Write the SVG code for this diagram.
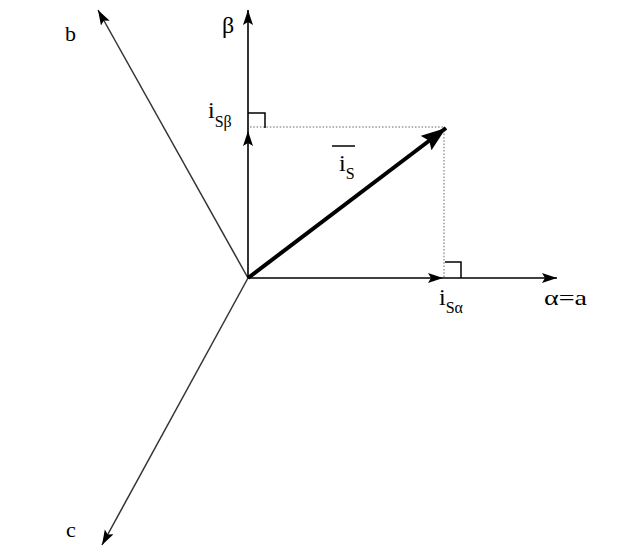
<svg xmlns="http://www.w3.org/2000/svg" width="619" height="556" viewBox="0 0 619 556">
<defs>
<style>
.ax{stroke:#000;stroke-width:1.6;fill:none}
.ph{stroke:#333;stroke-width:1.5;fill:none}
.dot{stroke:#999;stroke-width:1.5;stroke-dasharray:1.5 1.8;fill:none}
.ra{stroke:#000;stroke-width:1.5;fill:none}
.lbl{font-family:"Liberation Serif","DejaVu Serif",serif;fill:#000}
.sub{font-size:16px}
</style>
<marker id="ar" markerUnits="userSpaceOnUse" markerWidth="16" markerHeight="12" refX="15" refY="5" orient="auto">
<path d="M0,0 L15,5 L0,10 L3,5 z" fill="#000"/>
</marker>
<marker id="arbig" markerUnits="userSpaceOnUse" markerWidth="26" markerHeight="20" refX="25" refY="9" orient="auto">
<path d="M0,0 L25,9 L0,18 L4,9 z" fill="#000"/>
</marker>
</defs>
<rect width="619" height="556" fill="#fff"/>
<g id="connectors">
<line class="ph" x1="248" y1="278" x2="98" y2="10" marker-end="url(#ar)"/>
<line class="ph" x1="248" y1="278" x2="102" y2="545" marker-end="url(#ar)"/>
<line class="ax" x1="248" y1="278" x2="443" y2="278" marker-end="url(#ar)"/>
<line class="ax" x1="443" y1="278" x2="557" y2="278" marker-end="url(#ar)"/>
<line class="ax" x1="248" y1="278" x2="248" y2="131" marker-end="url(#ar)"/>
<line class="ax" x1="248" y1="131" x2="248" y2="10" marker-end="url(#ar)"/>
<line class="dot" x1="250" y1="127" x2="443" y2="127"/>
<line class="dot" x1="444" y1="127" x2="444" y2="277"/>
<polyline class="ra" points="248,113 265,113 265,128"/>
<polyline class="ra" points="445,262 461,262 461,278"/>
<line x1="248" y1="278" x2="446" y2="128" stroke="#000" stroke-width="4" marker-end="url(#arbig)"/>
</g>
<g id="label-b"><text class="lbl" x="65" y="41" font-size="22">b</text></g>
<g id="label-c"><text class="lbl" x="66" y="537" font-size="22">c</text></g>
<g id="label-beta"><text class="lbl" x="222" y="33" font-size="24">β</text></g>
<g id="label-alpha"><text class="lbl" x="544" y="305" font-size="22" textLength="43" lengthAdjust="spacingAndGlyphs">α=a</text></g>
<g id="label-isb"><text class="lbl" x="208" y="118" font-size="24">i<tspan class="sub" dy="9">Sβ</tspan></text></g>
<g id="label-isa"><text class="lbl" x="439" y="305" font-size="24">i<tspan class="sub" dy="8">Sα</tspan></text></g>
<g id="label-is">
<line x1="332" y1="146" x2="355" y2="146" stroke="#000" stroke-width="1.5"/>
<text class="lbl" x="339" y="171" font-size="24">i<tspan class="sub" dy="8">S</tspan></text>
</g>
</svg>
